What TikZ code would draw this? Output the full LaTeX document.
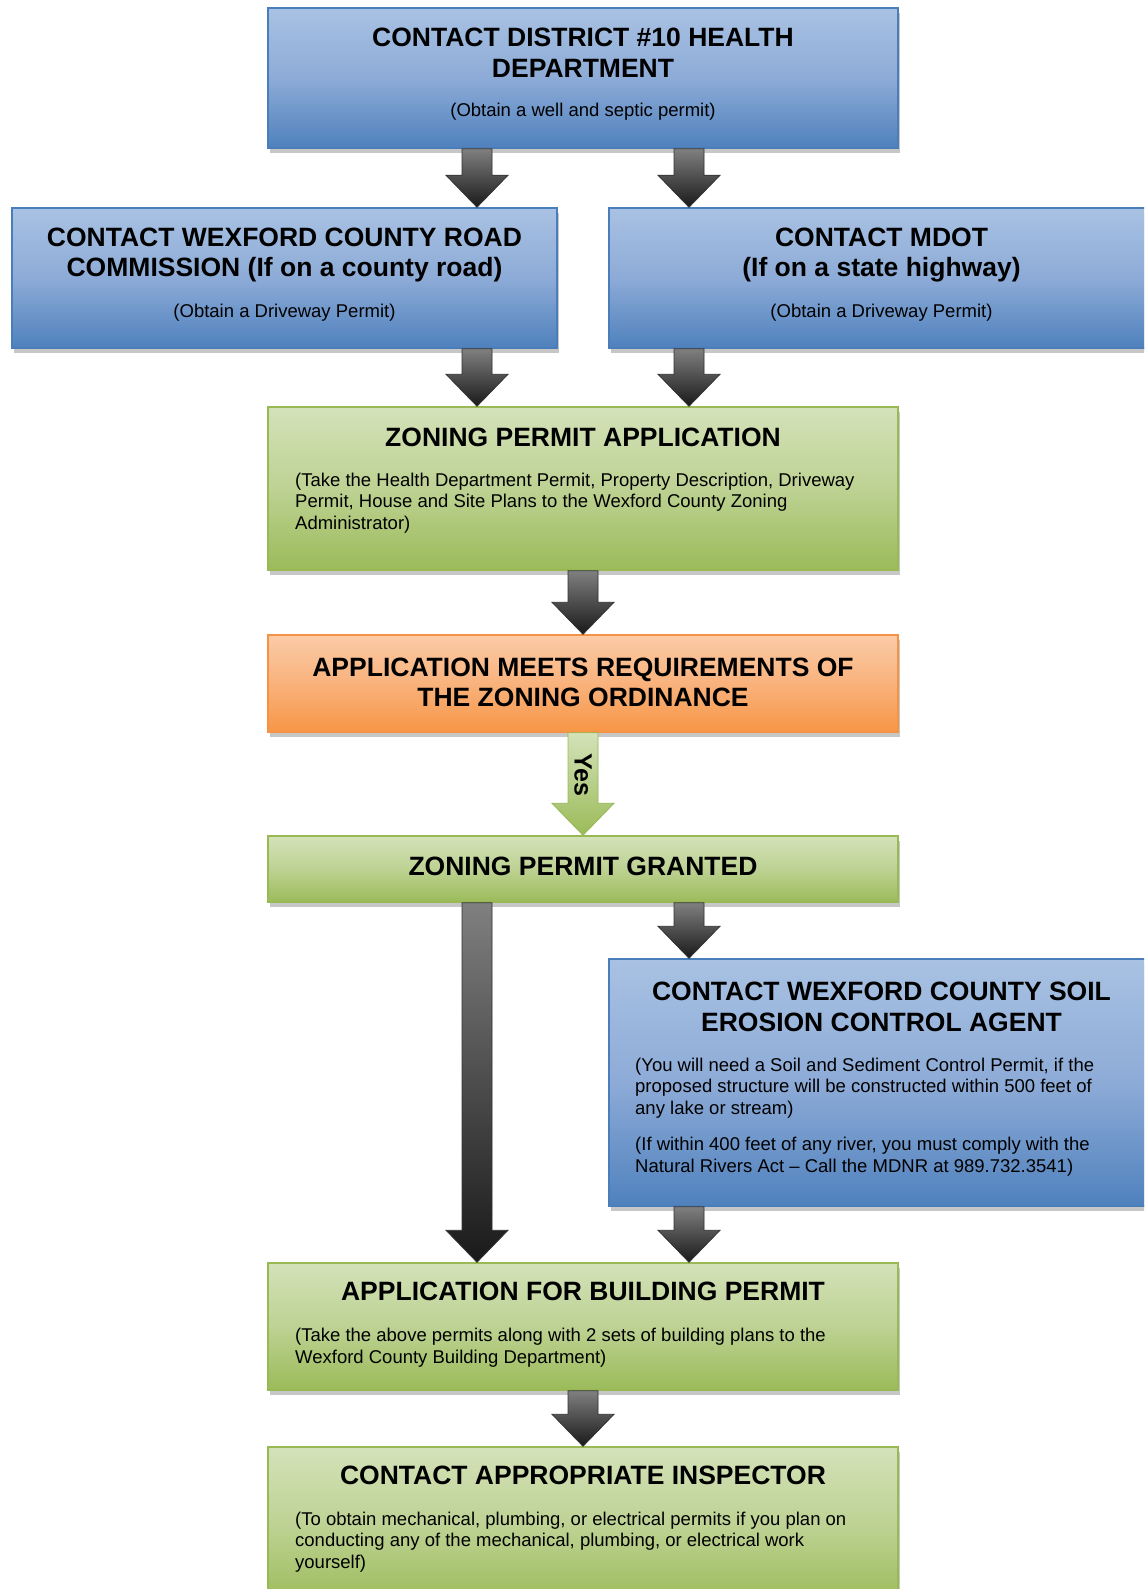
\documentclass[tikz,border=0pt]{standalone}
\usepackage{fontspec}
\setmainfont{Liberation Sans}
\usetikzlibrary{calc,shadows}

\definecolor{bluetop}{HTML}{A9C2E3}
\definecolor{bluemid}{HTML}{8DABD7}
\definecolor{bluebot}{HTML}{4F81BD}
\definecolor{blueline}{HTML}{4A7EBB}
\definecolor{greentop}{HTML}{D4E2B9}
\definecolor{greenmid}{HTML}{BDD293}
\definecolor{greenbot}{HTML}{9BBB59}
\definecolor{greenline}{HTML}{98B954}
\definecolor{orangetop}{HTML}{FBCBA7}
\definecolor{orangemid}{HTML}{F9B27C}
\definecolor{orangebot}{HTML}{F79646}
\definecolor{orangeline}{HTML}{F59243}

\newcommand\titlefont{\bfseries\fontsize{26.5}{30.5}\selectfont}
\newcommand\notefont{\fontsize{18.5}{21.6}\selectfont}
\newcommand\boxlines[2]{\begin{tabular}[t]{@{}#1@{}}#2\end{tabular}}

% block arrow outline, start point in \p1, tip height in \p2
\def\arrpath{(\x1-15pt,\y1) -- (\x1+15pt,\y1) -- (\x1+15pt,\y2+32pt) -- (\x1+31pt,\y2+32pt)
  -- (\x1,\y2) -- (\x1-31pt,\y2+32pt) -- (\x1-15pt,\y2+32pt) -- cycle}
\newcommand\blockarr[3][darkarrow]{%
  \path[fill=black!22, xshift=2pt, yshift=-3pt] let \p1=(#2), \p2=(#3) in \arrpath;
  \path[#1] let \p1=(#2), \p2=(#3) in \arrpath;}

\tikzset{
  stepbox/.style={rectangle, inner sep=0pt, line width=1.5pt,
    drop shadow={shadow xshift=1.5pt, shadow yshift=-5pt, fill=black!22, opacity=1}},
  bluebox/.style={stepbox, draw=blueline, top color=bluetop, bottom color=bluebot, middle color=bluemid},
  greenbox/.style={stepbox, draw=greenline, top color=greentop, bottom color=greenbot, middle color=greenmid},
  orangebox/.style={stepbox, draw=orangeline, top color=orangetop, bottom color=orangebot, middle color=orangemid},
  boxtitle/.style={font=\titlefont, inner sep=0pt, anchor=base},
  boxnote/.style={font=\notefont, inner sep=0pt, anchor=base west},
  darkarrow/.style={draw=black!80, line width=0.8pt, top color=black!50, bottom color=black!90},
  yesarrow/.style={draw=greenline, line width=0.8pt, top color=greentop, bottom color=greenbot},
}

\begin{document}
\begin{tikzpicture}[x=1pt, y=-1pt]
    \useasboundingbox (0,0) rectangle (1144,1589);
    \clip (0,0) rectangle (1144,1589);
    \coordinate (lcol) at (477,0);
    \coordinate (rcol) at (689,0);

    % boxes
    \node[bluebox, minimum width=630pt, minimum height=140pt] (health) at (583,78) {};
    \node[bluebox, minimum width=545pt, minimum height=140pt] (road) at (284.5,278) {};
    \node[bluebox, minimum width=545pt, minimum height=140pt] (mdot) at (881.5,278) {};
    \node[greenbox, minimum width=630pt, minimum height=163pt] (zoning) at (583,488.5) {};
    \node[orangebox, minimum width=630pt, minimum height=97pt] (meets) at (583,683.5) {};
    \node[greenbox, minimum width=630pt, minimum height=66pt] (granted) at (583,869) {};
    \node[bluebox, minimum width=545pt, minimum height=247pt] (soil) at (881.5,1082.5) {};
    \node[greenbox, minimum width=630pt, minimum height=127pt] (building) at (583,1326.5) {};
    \node[greenbox, minimum width=630pt, minimum height=158pt] (inspector) at (583,1526) {};

    % texts
    \node[boxtitle] (health-t) at (583,47) {\boxlines{c}{CONTACT DISTRICT \#10 HEALTH\\DEPARTMENT}};
    \node[boxnote, anchor=base] (health-n) at (583,117) {(Obtain a well and septic permit)};
    \node[boxtitle] (road-t) at (284.5,246.5) {\boxlines{c}{CONTACT WEXFORD COUNTY ROAD\\COMMISSION (If on a county road)}};
    \node[boxnote, anchor=base] (road-n) at (284.5,317) {(Obtain a Driveway Permit)};
    \node[boxtitle] (mdot-t) at (881.5,246.5) {\boxlines{c}{CONTACT MDOT\\(If on a state highway)}};
    \node[boxnote, anchor=base] (mdot-n) at (881.5,317) {(Obtain a Driveway Permit)};
    \node[boxtitle] (zoning-t) at (583,446) {ZONING PERMIT APPLICATION};
    \node[boxnote] (zoning-n) at (295,486) {\boxlines{l}{(Take the Health Department Permit, Property Description, Driveway\\Permit, House and Site Plans to the Wexford County Zoning\\Administrator)}};
    \node[boxtitle] (meets-t) at (583,676) {\boxlines{c}{APPLICATION MEETS REQUIREMENTS OF\\THE ZONING ORDINANCE}};
    \node[boxtitle] (granted-t) at (583,875.5) {ZONING PERMIT GRANTED};
    \node[boxtitle] (soil-t) at (881.5,1000.5) {\boxlines{c}{CONTACT WEXFORD COUNTY SOIL\\EROSION CONTROL AGENT}};
    \node[boxnote] (soil-n) at (635,1071) {\boxlines{l}{(You will need a Soil and Sediment Control Permit, if the\\proposed structure will be constructed within 500 feet of\\any lake or stream)\\[15pt](If within 400 feet of any river, you must comply with the\\Natural Rivers Act – Call the MDNR at 989.732.3541)}};
    \node[boxtitle] (building-t) at (583,1300.5) {APPLICATION FOR BUILDING PERMIT};
    \node[boxnote] (building-n) at (295,1341.5) {\boxlines{l}{(Take the above permits along with 2 sets of building plans to the\\Wexford County Building Department)}};
    \node[boxtitle] (inspector-t) at (583,1484.5) {CONTACT APPROPRIATE INSPECTOR};
    \node[boxnote] (inspector-n) at (295,1525) {\boxlines{l}{(To obtain mechanical, plumbing, or electrical permits if you plan on\\conducting any of the mechanical, plumbing, or electrical work\\yourself)}};

    % arrows
    \blockarr{health.south -| lcol}{road.north}
    \blockarr{health.south -| rcol}{mdot.north}
    \blockarr{road.south -| lcol}{zoning.north}
    \blockarr{mdot.south -| rcol}{zoning.north}
    \blockarr{zoning.south}{meets.north}
    \blockarr[yesarrow]{meets.south}{granted.north}
    \node[font=\bfseries\fontsize{25}{28}\selectfont, rotate=-90, inner sep=0pt] (yes) at (583,775) {Yes};
    \blockarr{granted.south -| lcol}{building.north}
    \blockarr{granted.south -| rcol}{soil.north}
    \blockarr{soil.south -| rcol}{building.north}
    \blockarr{building.south}{inspector.north}
\end{tikzpicture}
\end{document}
